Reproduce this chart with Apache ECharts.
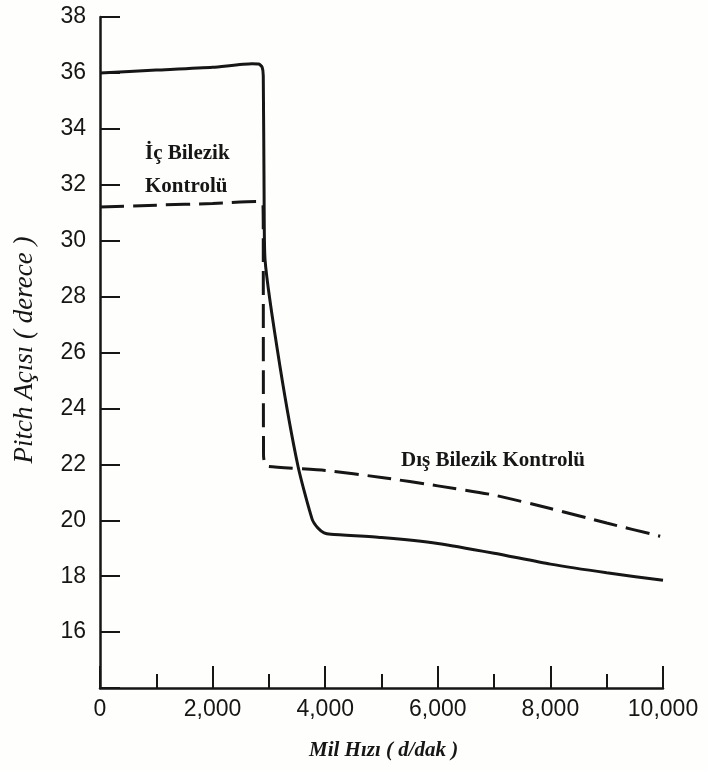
<!DOCTYPE html>
<html>
<head>
<meta charset="utf-8">
<script src="https://cdn.jsdelivr.net/npm/echarts@6/dist/echarts.min.js"></script>
<style>
html,body{margin:0;padding:0;background:#fefefc;}
#c{width:708px;height:771px;}
</style>
</head>
<body>
<div id="c"></div>
<script>
// X: spindle speed (d/dak), Y: pitch angle (derece)
const innerRaceX = [0, 1000, 2000, 2700, 2820, 2880, 2900, 2915, 2932, 3197, 3517, 3766, 3870, 3980, 4100, 5000, 6000, 7000, 8000, 9000, 10000];
const innerRaceY = [36.0, 36.1, 36.2, 36.33, 36.32, 36.2, 35.9, 31.5, 29.3, 25.5, 21.93, 20.05, 19.72, 19.55, 19.5, 19.38, 19.17, 18.82, 18.43, 18.12, 17.85];

const outerRaceX = [0, 1000, 2000, 2800, 2870, 2895, 2900, 2905, 2930, 3000, 4000, 5000, 6000, 7000, 8000, 9000, 9950];
const outerRaceY = [31.2, 31.27, 31.33, 31.4, 31.38, 31.25, 30.0, 22.3, 22.0, 21.92, 21.78, 21.53, 21.23, 20.9, 20.42, 19.9, 19.43];

const yTicks = [16, 18, 20, 22, 24, 26, 28, 30, 32, 34, 36, 38];
const xTickLabels = ['0', '2,000', '4,000', '6,000', '8,000', '10,000'];

const innerLabel = ['İç Bilezik', 'Kontrolü'];
const outerLabel = 'Dış Bilezik Kontrolü';
const yName = 'Pitch Açısı ( derece )';
const xName = 'Mil Hızı ( d/dak )';

const ink = '#161616';
const chart = echarts.init(document.getElementById('c'));

const pair = (xs, ys) => xs.map((x, i) => [x, ys[i]]);

chart.setOption({
  backgroundColor: '#fefefc',
  animation: false,
  grid: { left: 100, right: 45, top: 17, bottom: 83 },
  xAxis: {
    type: 'value', min: 0, max: 10000, interval: 2000,
    axisLine: { show: true, lineStyle: { color: ink, width: 2.5 } },
    axisTick: { show: true, inside: true, length: 22, lineStyle: { color: ink, width: 2 } },
    minorTick: { show: true, splitNumber: 2, length: 14, lineStyle: { color: ink, width: 2 } },
    splitLine: { show: false },
    axisLabel: {
      margin: 10, color: ink, fontFamily: 'Liberation Sans', fontSize: 23,
      formatter: v => xTickLabels[Math.round(v / 2000)]
    }
  },
  yAxis: {
    type: 'value', min: 14, max: 38, interval: 2,
    axisLine: { show: true, lineStyle: { color: ink, width: 2.5 } },
    axisTick: { show: true, inside: true, length: 20, lineStyle: { color: ink, width: 2 },
      interval: (i, v) => yTicks.indexOf(Number(v)) >= 0 },
    splitLine: { show: false },
    axisLabel: {
      margin: 14, color: ink, fontFamily: 'Liberation Sans', fontSize: 23,
      formatter: v => (yTicks.indexOf(v) >= 0 ? String(v) : '')
    }
  },
  series: [
    {
      type: 'line', data: pair(innerRaceX, innerRaceY), showSymbol: false, smooth: 0.2,
      lineStyle: { color: ink, width: 3 }
    },
    {
      type: 'line', data: pair(outerRaceX, outerRaceY), showSymbol: false, smooth: 0.2,
      lineStyle: { color: ink, width: 3, type: [24, 9] }
    }
  ],
  graphic: [
    { type: 'text', left: 145, top: 137, style: { text: innerLabel.join('\n'), fill: ink,
      font: 'bold 21px "Liberation Serif"', lineHeight: 33 } },
    { type: 'text', left: 401, top: 450, style: { text: outerLabel, fill: ink,
      font: 'bold 21px "Liberation Serif"' } },
    { type: 'text', left: 309, top: 740, style: { text: xName, fill: ink,
      font: 'italic bold 21px "Liberation Serif"' } },
    { type: 'text', x: 25, y: 350, rotation: Math.PI / 2, style: { text: yName, fill: ink,
      font: 'italic 27px "Liberation Serif"', align: 'center', verticalAlign: 'middle' } }
  ]
});
</script>
</body>
</html>
